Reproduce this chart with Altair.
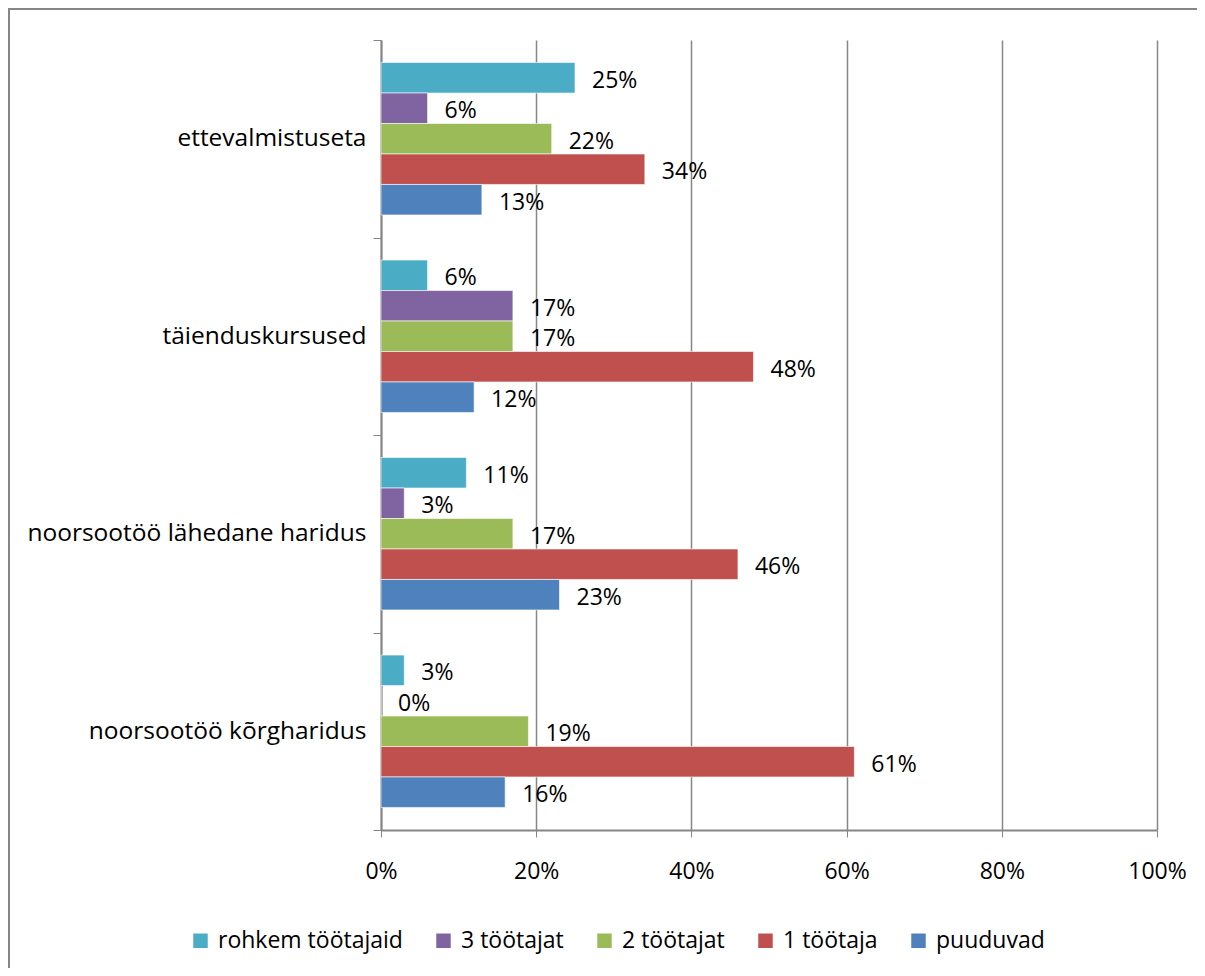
import altair as alt
import pandas as pd

categories = ["ettevalmistuseta", "täienduskursused", "noorsootöö lähedane haridus", "noorsootöö kõrgharidus"]
series = ["rohkem töötajaid", "3 töötajat", "2 töötajat", "1 töötaja", "puuduvad"]
colors = ["#4BACC6", "#8064A2", "#9BBB59", "#C0504D", "#4F81BD"]

rohkem = [25, 6, 11, 3]
kolm = [6, 17, 3, 0]
kaks = [22, 17, 17, 19]
yks = [34, 48, 46, 61]
puuduvad = [13, 12, 23, 16]

values = [rohkem, kolm, kaks, yks, puuduvad]
rows = []
for s, vals in zip(series, values):
    for c, v in zip(categories, vals):
        rows.append({"kategooria": c, "seeria": s, "vaartus": v / 100.0, "silt": f"{v}%"})
df = pd.DataFrame(rows)

FONT = "Open Sans"
FS = 23
FSY = 24.5
GRAY = "#868686"

y_enc = alt.Y("kategooria:N", sort=categories, title=None,
              scale=alt.Scale(paddingInner=0, paddingOuter=0),
              axis=alt.Axis(tickBand="extent", labelFontSize=FSY, labelFont=FONT,
                            labelColor="#000000", labelPadding=7, tickSize=8,
                            tickColor=GRAY, domainColor=GRAY, domainWidth=2,
                            labelLimit=400))
yoff = alt.YOffset("seeria:N", sort=series,
                   scale=alt.Scale(paddingInner=0, paddingOuter=0.74))
x_enc = alt.X("vaartus:Q", title=None,
              scale=alt.Scale(domain=[0, 1], nice=False),
              axis=alt.Axis(format="%", values=[0, 0.2, 0.4, 0.6, 0.8, 1.0],
                            labelFontSize=FS, labelFont=FONT, labelColor="#000000",
                            labelPadding=23, tickSize=7, tickColor=GRAY, labelFlush=False,
                            domainColor=GRAY, domainWidth=2, gridColor=GRAY,
                            gridWidth=1.5, grid=True))

bars = alt.Chart(df).mark_bar(stroke="white", strokeWidth=0.6).encode(
    y=y_enc, yOffset=yoff, x=x_enc,
    color=alt.Color("seeria:N", sort=series,
                    scale=alt.Scale(domain=series, range=colors),
                    legend=alt.Legend(title=None, orient="none", direction="horizontal",
                                      legendX=-192, legendY=889, symbolType="square",
                                      symbolSize=210, symbolStrokeWidth=0,
                                      labelFontSize=FS, labelFont=FONT, labelLimit=400,
                                      labelColor="#000000", columnPadding=29, padding=0,
                                      symbolOffset=0, labelOffset=6)),
)

labels = alt.Chart(df).mark_text(align="left", baseline="middle", dx=17, dy=3,
                                 fontSize=FS, font=FONT, color="#000000").encode(
    y=alt.Y("kategooria:N", sort=categories), yOffset=yoff,
    x=alt.X("vaartus:Q"), text="silt:N")

frame = alt.Chart(pd.DataFrame({"a": [0]})).mark_rect(
    fill=None, stroke=GRAY, strokeWidth=2, clip=False).encode(
    x=alt.value(-372), x2=alt.value(2000), y=alt.value(-31), y2=alt.value(2000))

chart = alt.layer(frame, bars, labels).properties(
    width=776, height=790,
    autosize=alt.AutoSizeParams(type="none"),
    padding={"left": 373, "top": 32, "right": 40, "bottom": 138},
).configure_view(stroke=None).configure_axis(grid=False)

chart.save("out.html", embed_options={"renderer": "svg", "actions": False})
